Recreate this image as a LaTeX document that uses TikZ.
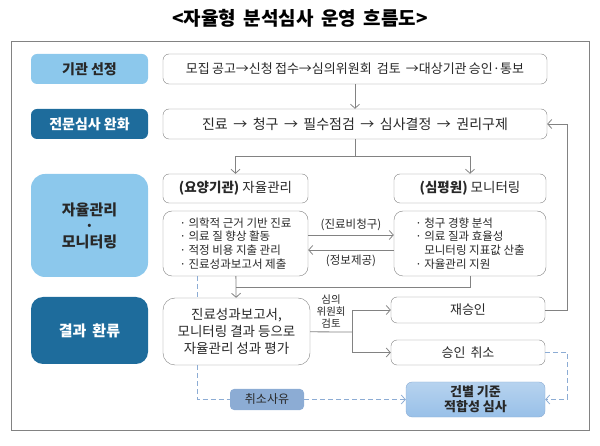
\documentclass[tikz,border=0pt]{standalone}
\usepackage{fontspec}
\setmainfont{Noto Sans CJK KR}
\usepackage{xcolor}
\usepackage{tikz}
\usetikzlibrary{positioning,calc,arrows.meta}

\definecolor{lightblue}{RGB}{140,200,236}
\definecolor{darkblue}{RGB}{30,108,156}
\definecolor{linegray}{RGB}{130,130,130}
\definecolor{dashblue}{RGB}{140,172,212}
\definecolor{reviewblue}{RGB}{152,192,232}
\definecolor{textgray}{RGB}{40,40,40}

\tikzset{
  flow/.style={draw=linegray, thick, -{Straight Barb[length=4pt,width=9pt]}},
  plain/.style={draw=linegray, thick},
  dashflow/.style={draw=dashblue, thick, dashed, dash pattern=on 5pt off 3pt},
  box/.style={draw=linegray, fill=white, rounded corners=6pt, inner sep=0pt,
    text=textgray, font=\fontsize{13}{15}\selectfont},
  listbox/.style={box, rounded corners=9pt, align=left, font=\fontsize{11.5}{13.8}\selectfont},
  lightlabel/.style={fill=lightblue, rounded corners=6pt, inner sep=0pt,
    minimum width=117pt, text=textgray, font=\fontsize{14}{18}\selectfont\bfseries, align=center},
  darklabel/.style={lightlabel, fill=darkblue, text=white}
}

\begin{document}
\begin{tikzpicture}[x=1pt, y=-1pt]
    \useasboundingbox (0,0) rectangle (600,446);
    \draw[linegray] (11,41) rectangle (589,430);
    \node[font=\fontsize{19}{22}\selectfont\bfseries, text=black] (title) at (300,18) {<자율형 \,분석심사 \,운영 \,흐름도>};

    % row labels
    \node[lightlabel, minimum height=30pt] (select) at (89.5,69) {기관 선정};
    \node[darklabel, minimum height=30pt] (relax) at (89.5,124) {전문심사 완화};
    \node[lightlabel, minimum height=103pt, rounded corners=14pt, font=\fontsize{15}{22}\selectfont\bfseries] (selfmon) at (89.5,225.5) {자율관리\\[-6pt]·\\[-6pt]모니터링};
    \node[darklabel, minimum height=67pt, rounded corners=12pt, font=\fontsize{15}{18}\selectfont\bfseries] (feedback) at (89.5,330.5) {결과 \,환류};

    % process boxes
    \node[box, minimum width=384pt, minimum height=30pt] (recruit) at (355,69) {모집\,공고→신청\,접수→심의위원회 \,검토 \,→대상기관\,승인·통보};
    \node[box, minimum width=384pt, minimum height=30pt, font=\fontsize{14}{16}\selectfont] (process) at (355,124) {진료 \,→ \,청구 \,→ \,필수점검 \,→ \,심사결정 \,→ \,권리구제};
    \node[box, minimum width=145pt, minimum height=29pt, font=\fontsize{13.5}{16}\selectfont] (inst) at (235.5,188.5) {\textbf{(요양기관)} 자율관리};
    \node[box, minimum width=152pt, minimum height=29pt, font=\fontsize{13.5}{16}\selectfont] (hira) at (470,188.5) {\textbf{(심평원)} 모니터링};
    \node[listbox, minimum width=145pt, minimum height=65pt] (instlist) at (235.5,243.5)
        {· 의학적 근거 기반 진료\\· 의료 질 향상 활동\\· 적정 비용 지출 관리\\· 진료성과보고서 제출};
    \node[listbox, minimum width=152pt, minimum height=65pt] (hiralist) at (470,243.5)
        {· 청구 경향 분석\\· 의료 질과 효율성\\\phantom{· }모니터링 지표값 산출\\· 자율관리 지원};
    \node[box, rounded corners=12pt, minimum width=147pt, minimum height=67pt, align=center,
        font=\fontsize{13.5}{17}\selectfont] (eval) at (236.5,331.5)
        {진료성과보고서,\\모니터링 결과 등으로\\자율관리 성과 평가};
    \node[box, minimum width=154pt, minimum height=26pt] (reappr) at (468,310) {재승인};
    \node[box, minimum width=154pt, minimum height=25pt] (cancel) at (468,352.5) {승인 \,취소};
    \node[box, draw=none, fill=dashblue, rounded corners=4pt, minimum width=74pt, minimum height=21pt,
        font=\fontsize{12}{14}\selectfont] (reason) at (267,399.5) {취소사유};
    \node[box, draw=dashblue, top color=reviewblue!70, bottom color=reviewblue, rounded corners=6pt,
        minimum width=139pt, minimum height=35pt, align=center,
        font=\fontsize{13}{15}\selectfont\bfseries] (review) at (475.5,399.5) {건별 기준\\적합성 심사};

    % connectors
    \coordinate (split) at (355,156);
    \draw[flow] (recruit) -- (process);
    \draw[plain] (process) -- (split);
    \draw[flow] (split) -| (inst);
    \draw[flow] (split) -| (hira);
    \draw[flow] (instlist.east |- 0,235) -- node[above=1pt, font=\fontsize{11.5}{13}\selectfont, text=textgray] {(진료비청구)} (hiralist.west |- 0,235);
    \draw[flow] (hiralist.west |- 0,250) -- node[below=1pt, font=\fontsize{11.5}{13}\selectfont, text=textgray] {(정보제공)} (instlist.east |- 0,250);
    \draw[flow] (instlist) -- (eval);
    \draw[plain] (hiralist.south) |- (instlist.south |- 0,287);

    \coordinate (branch) at (352,332);
    \draw[plain] (eval) -- node[above, align=center, font=\fontsize{10.5}{12}\selectfont, text=textgray] {심의\\위원회\\검토} (branch);
    \draw[flow] (branch) |- (reappr);
    \draw[flow] (branch) |- (cancel);
    \draw[flow] (reappr.east) -- ++(22,0) |- (process.east);

    % dashed path
    \draw[dashflow] (instlist.south -| 197,0) -- (eval.north -| 197,0);
    \draw[dashflow] (eval.south -| 197,0) |- (reason);
    \draw[dashflow, -{Straight Barb[length=4pt,width=9pt]}] (reason) -- (review);
    \draw[dashflow, -{Straight Barb[length=4pt,width=9pt]}] (cancel.east) -- ++(22,0) |- (review.east);
\end{tikzpicture}
\end{document}
